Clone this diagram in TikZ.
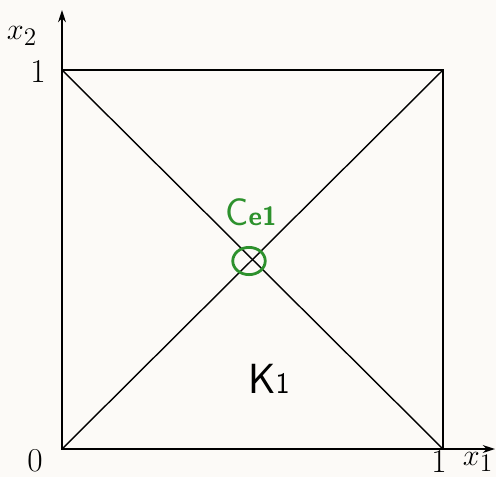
\documentclass[tikz,border=0pt]{standalone}
\usetikzlibrary{arrows.meta,shapes.geometric}
\definecolor{pen}{RGB}{45,145,45}
\begin{document}
\begin{tikzpicture}[x=0.02cm,y=-0.02cm,
  axis/.style={line width=0.9pt,-{Stealth[length=7pt,width=4.5pt]}},
  edge/.style={line width=0.8pt},
  lbl/.style={font=\fontsize{19}{22}\selectfont,inner sep=0pt},
  hand/.style={font=\sffamily\fontsize{24}{28}\selectfont}]
\useasboundingbox (0,0) rectangle (496,477);
\fill[white!96!brown] (0,0) rectangle (496,477);
\coordinate (O) at (62,449);
\coordinate (A) at (443,449);
\coordinate (B) at (443,70);
\coordinate (C) at (62,70);
\coordinate (xe) at (495,449);
\coordinate (ye) at (62,10);
\draw[axis] (O) -- (xe);
\draw[axis] (O) -- (ye);
\draw[edge] (O) -- (A) -- (B) -- (C) -- cycle;
\draw[edge] (O) -- (B);
\draw[edge] (A) -- (C);
\node[lbl] (x1) at (478,462) {$x_1$};
\node[lbl] (x2) at (22,36) {$x_2$};
\node[lbl] (one) at (38,71) {1};
\node[lbl] (zero) at (35,461) {0};
\node[lbl] (onex) at (439,461) {1};
\node[draw=pen,line width=1.6pt,ellipse,minimum width=18.5pt,minimum height=15.5pt,inner sep=0pt] (ce) at (249,261) {};
\node[text=pen,font=\sffamily\fontsize{22}{26}\selectfont,inner sep=0pt] (cel) at (251,212) {C\fontsize{15}{18}\selectfont\textbf{e1}};
\node[hand,inner sep=0pt] (k1) at (269,379) {K\fontsize{17}{20}\selectfont 1};
\end{tikzpicture}
\end{document}
